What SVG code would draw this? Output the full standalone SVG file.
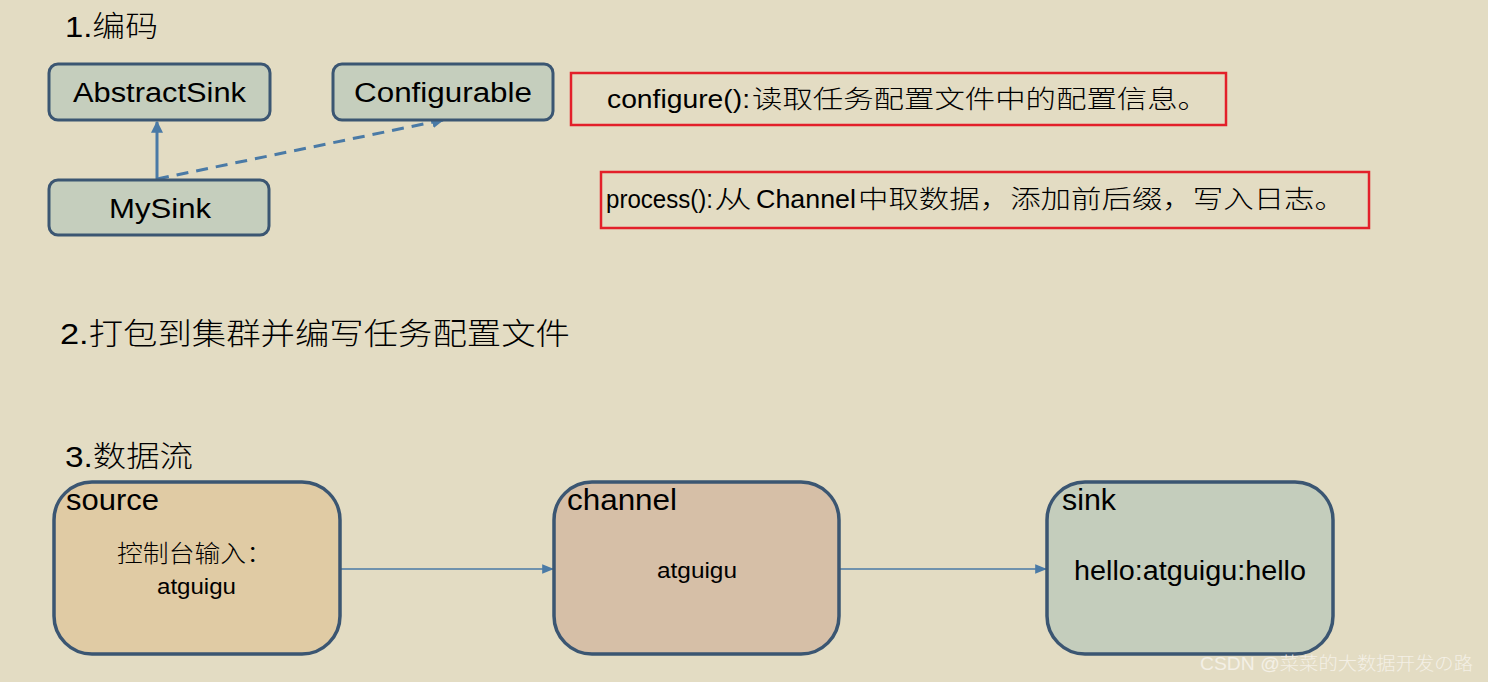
<svg xmlns="http://www.w3.org/2000/svg" width="1488" height="682" viewBox="0 0 1488 682">
<defs>
<style>
text{font-family:"Liberation Sans","Noto Sans CJK SC",sans-serif;fill:#000}
.cls{fill:#c5cebd;stroke:#3b5672;stroke-width:3}
.red{fill:none;stroke:#e3202a;stroke-width:2.5}
.conn{stroke:#4a7aa6;stroke-width:3;fill:none}
.flow{stroke:#4a7aa6;stroke-width:1.5;fill:none}
.h{font-size:29px}
.n{font-size:27px}
.t{font-size:25px}
.cjk{font-family:"Noto Sans CJK SC",sans-serif;font-weight:300}
</style>
<marker id="ah" viewBox="0 0 10 10" refX="9" refY="5" markerWidth="4" markerHeight="4" orient="auto"><path d="M0,0L10,5L0,10z" fill="#4a7aa6"/></marker>
<marker id="ah2" viewBox="0 0 10 10" refX="9" refY="5" markerWidth="8" markerHeight="8" orient="auto"><path d="M0,1L10,5L0,9z" fill="#4a7aa6"/></marker>
</defs>
<rect width="1488" height="682" fill="#e3dcc3"/>
<text x="65" y="37" class="h" textLength="93" lengthAdjust="spacingAndGlyphs">1.<tspan class="cjk">编码</tspan></text>
<text x="60" y="344" style="font-size:30px" textLength="510" lengthAdjust="spacingAndGlyphs">2.<tspan class="cjk">打包到集群并编写任务配置文件</tspan></text>
<text x="65" y="467" class="h" textLength="128" lengthAdjust="spacingAndGlyphs">3.<tspan class="cjk">数据流</tspan></text>
<g id="connectors">
<line x1="157" y1="179" x2="157" y2="122" class="conn" marker-end="url(#ah)"/>
<line x1="157" y1="179" x2="443" y2="120" class="conn" stroke-dasharray="12,8" marker-end="url(#ah)"/>
<line x1="341" y1="569" x2="553" y2="569" class="flow" marker-end="url(#ah2)"/>
<line x1="840" y1="569" x2="1046" y2="569" class="flow" marker-end="url(#ah2)"/>
</g>
<g id="abstractsink"><rect x="49" y="64" width="221" height="56" rx="9" class="cls"/><text x="73" y="102" class="n" textLength="173" lengthAdjust="spacingAndGlyphs">AbstractSink</text></g>
<g id="configurable"><rect x="333" y="64" width="220" height="56" rx="9" class="cls"/><text x="354" y="102" class="n" textLength="178" lengthAdjust="spacingAndGlyphs">Configurable</text></g>
<g id="mysink"><rect x="49" y="180" width="220" height="55" rx="9" class="cls"/><text x="109" y="218" class="n" textLength="102" lengthAdjust="spacingAndGlyphs">MySink</text></g>
<g id="configure-note"><rect x="571" y="73" width="655" height="52" class="red"/><text x="607" y="108" class="t" textLength="143" lengthAdjust="spacingAndGlyphs">configure():</text><text x="752" y="108" class="t cjk" textLength="456" lengthAdjust="spacingAndGlyphs">读取任务配置文件中的配置信息。</text></g>
<g id="process-note"><rect x="601" y="172" width="768" height="56" class="red"/><text x="606" y="208" class="t" textLength="107" lengthAdjust="spacingAndGlyphs">process():</text><text x="714" y="208" class="t cjk" textLength="38" lengthAdjust="spacingAndGlyphs">从</text><text x="756" y="208" class="t" textLength="100" lengthAdjust="spacingAndGlyphs">Channel</text><text x="858" y="208" class="t cjk" textLength="487" lengthAdjust="spacingAndGlyphs">中取数据，添加前后缀，写入日志。</text></g>
<g id="source"><rect x="54" y="482" width="286" height="172" rx="38" fill="#e0cba4" stroke="#3b5672" stroke-width="3.5"/><text x="66" y="510" class="h" textLength="93" lengthAdjust="spacingAndGlyphs">source</text><text x="117" y="562" class="cjk" style="font-size:24px" textLength="155" lengthAdjust="spacingAndGlyphs">控制台输入：</text><text x="157" y="594" style="font-size:22px" textLength="79" lengthAdjust="spacingAndGlyphs">atguigu</text></g>
<g id="channel"><rect x="554" y="482" width="285" height="172" rx="38" fill="#d6bfa7" stroke="#3b5672" stroke-width="3.5"/><text x="567" y="510" class="h" textLength="110" lengthAdjust="spacingAndGlyphs">channel</text><text x="657" y="578" style="font-size:22px" textLength="80" lengthAdjust="spacingAndGlyphs">atguigu</text></g>
<g id="sink"><rect x="1047" y="482" width="286" height="172" rx="38" fill="#c4cdbc" stroke="#3b5672" stroke-width="3.5"/><text x="1062" y="510" class="h" textLength="54" lengthAdjust="spacingAndGlyphs">sink</text><text x="1074" y="580" style="font-size:27px" textLength="232" lengthAdjust="spacingAndGlyphs">hello:atguigu:hello</text></g>
<text x="1200" y="670" style="font-size:18px;fill:#f4f0e6" textLength="273" lengthAdjust="spacingAndGlyphs">CSDN @<tspan class="cjk">菜菜的大数据开发の路</tspan></text>
</svg>
